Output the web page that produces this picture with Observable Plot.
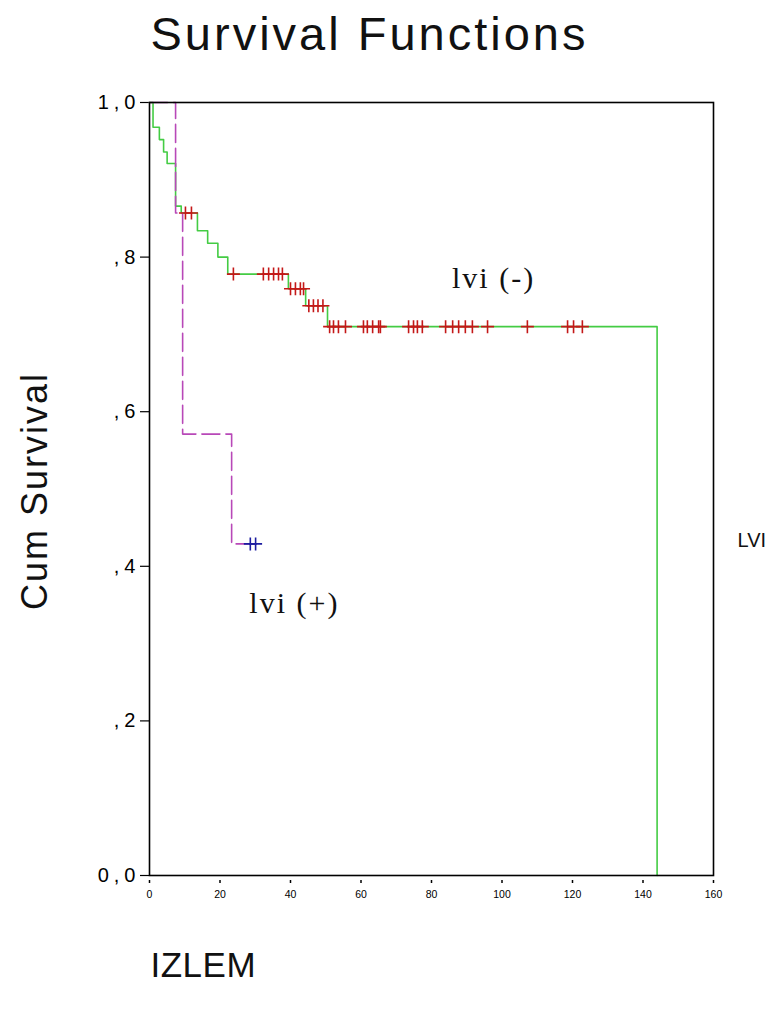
<!DOCTYPE html>
<html>
<head>
<meta charset="utf-8">
<script src="https://cdn.jsdelivr.net/npm/d3@7"></script>
<script src="https://cdn.jsdelivr.net/npm/@observablehq/plot@0.6"></script>
<style>
  body { margin: 0; background: #fff; }
  #chart svg { display: block; }
  g[aria-label="y-axis tick label"] text { letter-spacing: 5px; }
  text[aria-label="title"] { letter-spacing: 3px; }
  text[aria-label="y label"] { letter-spacing: 2px; }
  text[aria-label="x label"] { letter-spacing: 0.5px; }
  text[aria-label="group label"] { letter-spacing: 2px; }
</style>
</head>
<body>
<div id="chart"></div>
<script>
// Kaplan–Meier estimate, LVI negative group: event times (months) and survival after each step
const negTime = [0, 1, 2.8, 4, 5, 7.4, 9, 13.6, 16.5, 19.4, 22.2, 39.4, 44.3, 50.5, 144];
const negSurv = [1, 0.968, 0.952, 0.936, 0.921, 0.866, 0.857, 0.834, 0.818, 0.800, 0.778, 0.759, 0.737, 0.710, 0];
// Censored follow-up times, LVI negative
const negCensored = [10.2, 11.9, 23.8, 32.3, 33.8, 35.2, 36.6, 37.7, 40.0, 41.4, 42.8, 43.7,
  45.2, 46.5, 47.8, 49.2, 51.1, 52.2, 53.6, 55.6, 60.7, 61.8, 63.3, 65.0, 65.5, 73.5, 74.9,
  76.0, 77.4, 84.0, 86.0, 87.7, 89.6, 91.6, 95.9, 107.2, 118.6, 120.3, 122.8];

// LVI positive group
const posTime = [0, 7.4, 9.4, 23.3, 30.1];
const posSurv = [1, 0.857, 0.571, 0.429, 0.429];
const posCensored = [28.6, 30.1];

// Axis ticks and their labels
const xTicks = [0, 20, 40, 60, 80, 100, 120, 140, 160];
const yTicks = [0, 0.2, 0.4, 0.6, 0.8, 1];
const yTickLabels = ["0,0", ",2", ",4", ",6", ",8", "1,0"];

const green = "#44cc44";
const purple = "#b848b8";
const red = "#c41818";
const blue = "#1c1ca0";

const steps = (ts, ss) => ts.map((t, i) => ({t, s: ss[i]}));
// survival value of a step curve at time t
const survAt = (ts, ss, t) => {
  let v = ss[0];
  for (let i = 0; i < ts.length; i++) if (ts[i] <= t) v = ss[i];
  return v;
};
const negRows = steps(negTime, negSurv);
const posRows = steps(posTime, posSurv);
const negCens = negCensored.map(t => ({t, s: survAt(negTime, negSurv, t)}));
const posCens = posCensored.map(t => ({t, s: survAt(posTime, posSurv, t)}));

// "+" censoring mark
const plus = {
  draw(context, size) {
    const r = Math.sqrt(size / Math.PI);
    context.moveTo(-r, 0); context.lineTo(r, 0);
    context.moveTo(0, -r); context.lineTo(0, r);
  }
};

const chart = Plot.plot({
  width: 784,
  height: 1012,
  marginLeft: 149,
  marginRight: 71,
  marginTop: 102,
  marginBottom: 137,
  style: {fontFamily: "'Liberation Sans', Arial, sans-serif", background: "#fff", color: "#000"},
  x: {domain: [0, 160]},
  y: {domain: [0, 1]},
  marks: [
    Plot.axisY({ticks: yTicks, tickFormat: d => yTickLabels[yTicks.indexOf(d)], tickSize: 9, tickPadding: 0, fontSize: 20, label: null, strokeWidth: 1.2}),
    Plot.axisX({ticks: xTicks, tickSize: 3, dy: 5, tickPadding: 7, fontSize: 10.5, label: null, strokeWidth: 1.5}),
    Plot.line(negRows, {x: "t", y: "s", curve: "step-after", stroke: green, strokeWidth: 1.6}),
    Plot.line(posRows, {x: "t", y: "s", curve: "step-after", stroke: purple, strokeWidth: 1.6, strokeDasharray: "18,6"}),
    Plot.dot(negCens, {x: "t", y: "s", symbol: plus, r: 6.5, stroke: red, strokeWidth: 1.6, fill: "none"}),
    Plot.dot(posCens, {x: "t", y: "s", symbol: plus, r: 6.5, stroke: blue, strokeWidth: 1.6, fill: "none"}),
    Plot.frame({stroke: "#000", strokeWidth: 1.6}),
    Plot.text([{t: 97.6, s: 0.772, label: "lvi (-)"}, {t: 41.1, s: 0.352, label: "lvi (+)"}],
      {x: "t", y: "s", text: "label", fontSize: 30, fontFamily: "'Liberation Serif', 'Times New Roman', serif", fill: "#111", ariaLabel: () => "group label"}),
    Plot.text(["Survival Functions"], {frameAnchor: "top-left", textAnchor: "start", lineAnchor: "middle", dx: 1, dy: -68, fontSize: 47, fill: "#111", ariaLabel: () => "title"}),
    Plot.text(["Cum Survival"], {frameAnchor: "left", textAnchor: "middle", lineAnchor: "middle", rotate: -90, dx: -114, dy: 2, fontSize: 36, fill: "#111", ariaLabel: () => "y label"}),
    Plot.text(["IZLEM"], {frameAnchor: "bottom-left", textAnchor: "start", lineAnchor: "middle", dx: 1, dy: 90, fontSize: 35, fill: "#111", ariaLabel: () => "x label"}),
    Plot.text(["LVI"], {frameAnchor: "right", textAnchor: "start", lineAnchor: "middle", dx: 24, dy: 52, fontSize: 20, fill: "#111"})
  ]
});
document.getElementById("chart").append(chart);
</script>
</body>
</html>
